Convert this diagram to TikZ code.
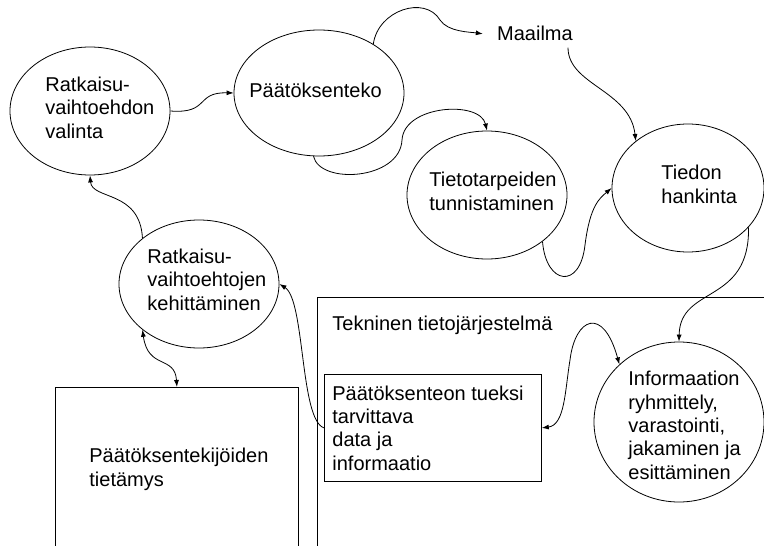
\documentclass[tikz,border=0pt]{standalone}
\usepackage{fontspec}
\setmainfont{Liberation Sans}
\usetikzlibrary{shapes.geometric,arrows.meta}
\begin{document}
\begin{tikzpicture}[x=1pt,y=-1pt,
  line width=0.8pt,
  ell/.style={draw,ellipse,inner sep=0pt},
  boxn/.style={draw,rectangle,inner sep=0pt,anchor=north west},
  txt/.style={anchor=base west,align=left,inner sep=0pt,font=\fontsize{20}{23.3}\selectfont},
  arr/.style={-{Latex[length=7pt,width=5pt]}},
  darr/.style={{Latex[length=7pt,width=5pt]}-{Latex[length=7pt,width=5pt]}}
]
\useasboundingbox (0,0) rectangle (764,546);
\clip (0,0) rectangle (764,546);

% boxes
\node[boxn,minimum width=243pt,minimum height=220pt] (b1) at (55,387) {};
\node[boxn,minimum width=500pt,minimum height=320pt] (b2) at (317,297) {};
\node[boxn,minimum width=217pt,minimum height=107pt] (b3) at (324,374) {};

% ellipses
\node[ell,minimum width=160pt,minimum height=128pt] (e1) at (90,111) {};
\node[ell,minimum width=170pt,minimum height=126pt] (e2) at (319,93) {};
\node[ell,minimum width=160pt,minimum height=128pt] (e3) at (487,195) {};
\node[ell,minimum width=152pt,minimum height=128pt] (e4) at (688,188) {};
\node[ell,minimum width=170pt,minimum height=160pt] (e5) at (679,422) {};
\node[ell,minimum width=160pt,minimum height=128pt] (e6) at (199,284) {};

% texts (anchored at the baseline of the last line)
\node[txt] (t1) at (45,138) {Ratkaisu-\\vaihtoehdon\\valinta};
\node[txt] (t2) at (249,97) {Päätöksenteko};
\node[anchor=base,inner xsep=14pt,inner ysep=6pt,font=\fontsize{20}{23.3}\selectfont] (m) at (535,41) {Maailma};
\node[txt] (t3) at (429,210) {Tietotarpeiden\\tunnistaminen};
\node[txt] (t4) at (661,203) {Tiedon\\hankinta};
\node[txt] (t5) at (147,310) {Ratkaisu-\\vaihtoehtojen\\kehittäminen};
\node[txt] (t6) at (89,486) {Päätöksentekijöiden\\tietämys};
\node[txt] (t7) at (332,330) {Tekninen tietojärjestelmä};
\node[txt] (t8) at (332,470) {Päätöksenteon tueksi\\tarvittava\\data ja\\informaatio};
\node[txt] (t9) at (628,479) {Informaation\\ryhmittely,\\varastointi,\\jakaminen ja\\esittäminen};

% connectors
\draw[arr] (e1.east) .. controls (210,114) and (195,92) .. (e2.west);
\draw[arr] (e2.42) .. controls (378,10) and (425,-5) .. (440,20) .. controls (448,32) and (470,32) .. (m.west);
\draw[arr] ([xshift=33pt]m.south) .. controls (568,85) and (630,90) .. (e4.138);
\draw[arr] (e2.-95) .. controls (320,185) and (400,180) .. (402,140) .. controls (404,105) and (480,100) .. (e3.north);
\draw[arr] (e3.-40) .. controls (546,285) and (580,290) .. (585,245) .. controls (590,205) and (600,198) .. (e4.west);
\draw[arr] (e4.-33) .. controls (750,305) and (680,285) .. (e5.north);
\draw[darr] (b3.east) .. controls (565,425) and (565,390) .. (570,360) .. controls (575,318) and (603,305) .. (e5.136);
\draw[arr] (b3.west) .. controls (300,420) and (305,300) .. (e6.east);
\draw[arr] (e6.141) .. controls (140,190) and (92,200) .. (e1.south);
\draw[darr] (e6.-141) .. controls (148,370) and (175,355) .. (b1.north);
\end{tikzpicture}
\end{document}
